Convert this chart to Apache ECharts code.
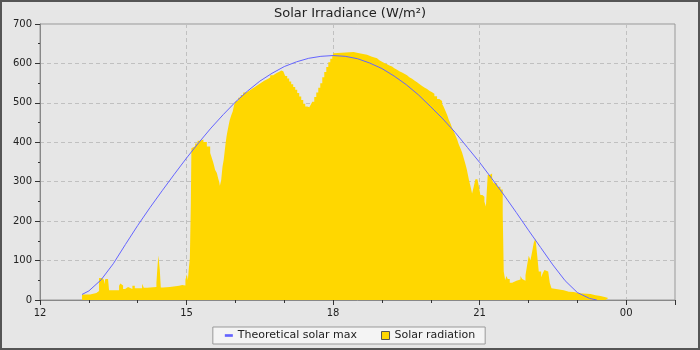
<!DOCTYPE html>
<html><head><meta charset="utf-8">
<script src="https://cdn.jsdelivr.net/npm/echarts@6/dist/echarts.min.js"></script>
<style>
html,body{margin:0;padding:0;background:#e6e6e6;}
#c{position:absolute;left:0;top:0;width:700px;height:350px;}
#f{position:absolute;left:0;top:0;width:700px;height:350px;box-sizing:border-box;border:2px solid #555;pointer-events:none;}
</style></head>
<body><div id="c"></div><div id="f"></div>
<script>
const titleText = 'Solar Irradiance (W/m²)';
const seriesNames = ['Theoretical solar max', 'Solar radiation'];
const xLabelHours = [12, 15, 18, 21, 24];
const xLabelTexts = ['12', '15', '18', '21', '00'];

// Measured solar radiation (time in decimal hours, W/m²)
const solarHours = [12.861,13.025,13.154,13.209,13.270,13.311,13.338,13.393,13.414,13.619,
13.645,13.666,13.701,13.742,13.803,13.891,13.941,14.090,14.125,14.193,
14.383,14.404,14.424,14.453,14.473,14.520,14.555,14.658,14.848,14.910,
14.936,14.977,15.006,15.027,15.047,15.068,15.088,15.100,15.121,15.176,
15.227,15.279,15.346,15.416,15.484,15.518,15.551,15.586,15.621,15.648,
15.668,15.682,15.709,15.736,15.760,15.777,15.797,15.818,15.838,15.863,
15.883,15.914,15.945,15.975,16.006,16.057,16.109,16.160,16.221,16.283,
16.344,16.406,16.467,16.529,16.590,16.652,16.713,16.775,16.836,16.898,
16.939,16.980,17.020,17.061,17.102,17.143,17.184,17.225,17.266,17.307,
17.348,17.389,17.430,17.471,17.512,17.543,17.574,17.615,17.656,17.697,
17.738,17.779,17.820,17.861,17.902,17.943,17.984,18.010,18.045,18.420,
18.537,18.695,18.797,18.900,18.947,19.002,19.049,19.105,19.152,19.207,
19.254,19.309,19.357,19.412,19.459,19.514,19.561,19.617,19.664,19.719,
19.766,19.822,19.869,19.924,19.971,20.027,20.074,20.129,20.176,20.232,
20.264,20.299,20.334,20.367,20.402,20.436,20.469,20.504,20.539,20.572,
20.607,20.641,20.674,20.709,20.736,20.756,20.781,20.811,20.846,20.879,
20.914,20.955,20.982,21.016,21.057,21.098,21.129,21.166,21.207,21.256,
21.289,21.359,21.426,21.473,21.494,21.523,21.549,21.576,21.617,21.666,
21.699,21.754,21.836,21.871,21.904,21.939,21.973,22.006,22.041,22.076,
22.109,22.143,22.178,22.211,22.260,22.293,22.328,22.363,22.404,22.436,
22.471,22.506,22.723,22.826,22.928,23.031,23.270,23.373,23.475,23.578,
23.633];
const solarValues = [14,18,23,56,51,40,53,48,25,36,
42,37,28,33,28,36,30,41,31,33,
44,83,113,76,32,36,33,36,38,41,
37,51,65,51,80,106,245,385,390,397,
404,407,401,389,373,360,347,330,322,308,
300,290,304,338,355,373,395,414,428,444,
456,468,478,495,505,513,520,526,531,536,
541,546,551,556,560,564,570,575,579,582,
580,575,568,562,554,547,540,533,525,516,
507,498,491,489,489,495,503,515,526,538,
550,565,578,591,603,612,619,626,629,626,
622,617,613,608,604,601,598,595,592,588,
584,580,577,574,570,565,561,557,552,548,
543,539,535,531,527,523,517,510,505,498,
490,480,470,458,448,437,428,418,408,395,
385,374,360,345,332,320,305,290,270,287,
306,306,290,266,262,249,237,317,321,304,
296,287,280,220,72,51,61,53,44,47,
49,52,61,53,49,63,89,112,101,123,
145,156,114,72,58,68,76,72,76,44,
30,25,21,20,17,15,12,10,7,5,
0];

// Theoretical clear-sky maximum (read every quarter hour)
const theoHours = [12.86,13.0,13.25,13.5,13.75,14.0,14.25,14.5,14.75,15.0,
15.25,15.5,15.75,16.0,16.25,16.5,16.75,17.0,17.25,17.5,
17.75,18.0,18.25,18.5,18.75,19.0,19.25,19.5,19.75,20.0,
20.25,20.5,20.75,21.0,21.25,21.5,21.75,22.0,22.25,22.5,
22.75,23.0,23.25,23.4];
const theoValues = [14,23,51,92,141,189,234,277,319,360,
399,436,470,502,530,555,575,592,604,613,
618,620,618,612,601,587,568,546,520,490,
459,425,387,349,308,266,222,177,133,89,
49,19,4,0];

const zip = (a, b) => a.slice(0, Math.min(a.length, b.length)).map((v, i) => [v, b[i]]);
const FONT = 'DejaVu Sans';
const chart = echarts.init(document.getElementById('c'), null, {renderer: 'canvas'});
chart.setOption({
  backgroundColor: '#e6e6e6',
  animation: false,
  textStyle: {fontFamily: FONT},
  title: {text: titleText, left: 'center', top: 2,
    textStyle: {fontSize: 13, fontWeight: 'normal', color: '#222', fontFamily: FONT}},
  legend: {
    data: [
      {name: seriesNames[0], icon: 'path://M0,0H6V2H0Z', itemStyle: {color: '#6464ff', borderWidth: 0}},
      {name: seriesNames[1], icon: 'rect', itemStyle: {color: '#ffd700', borderColor: '#555', borderWidth: 1}}
    ],
    left: 'center', top: 327, itemWidth: 8, itemHeight: 8, itemGap: 24,
    padding: [3, 10, 3, 12], backgroundColor: '#f4f4f4', borderColor: '#999', borderWidth: 1, borderRadius: 0,
    textStyle: {fontSize: 11, color: '#222', fontFamily: FONT}
  },
  grid: {left: 40, right: 25, top: 24, bottom: 50, show: true, backgroundColor: '#e6e6e6', borderColor: '#999', borderWidth: 1, containLabel: false},
  xAxis: [
    {type: 'value', min: 12, max: 25, interval: 1,
     axisLine: {lineStyle: {color: '#888'}},
     axisTick: {length: 3, lineStyle: {color: '#333'}},
     axisLabel: {fontSize: 10, color: '#222', margin: 8, fontFamily: FONT,
       formatter: v => { const i = xLabelHours.indexOf(v); return i >= 0 ? xLabelTexts[i] : ''; }},
     splitLine: {show: false}},
    {type: 'value', min: 12, max: 25, interval: 3, position: 'bottom',
     axisLine: {show: false},
     axisTick: {length: 5, lineStyle: {color: '#333'}},
     axisLabel: {show: false},
     splitLine: {show: true, lineStyle: {color: '#c0c0c0', type: [4, 3], width: 1}}}
  ],
  yAxis: {type: 'value', min: 0, max: 700, interval: 100,
    axisLine: {show: true, lineStyle: {color: '#888'}},
    axisTick: {show: true, length: 5, lineStyle: {color: '#333'}},
    minorTick: {show: true, splitNumber: 2, length: 2, lineStyle: {color: '#333'}},
    axisLabel: {fontSize: 10, color: '#222', margin: 8, fontFamily: FONT},
    splitLine: {show: true, lineStyle: {color: '#c0c0c0', type: [4, 3], width: 1}}},
  series: [
    {name: seriesNames[1], type: 'line', xAxisIndex: 0, step: 'end', data: zip(solarHours, solarValues),
     symbol: 'none', showSymbol: false, silent: true, z: 2,
     lineStyle: {width: 0, opacity: 0}, itemStyle: {color: '#ffd700'},
     areaStyle: {color: '#ffd700', opacity: 1}},
    {name: seriesNames[0], type: 'line', xAxisIndex: 0, data: zip(theoHours, theoValues),
     symbol: 'none', showSymbol: false, silent: true, z: 3,
     lineStyle: {width: 1, color: '#6464ff'}, itemStyle: {color: '#6464ff'}}
  ]
});
</script></body></html>
